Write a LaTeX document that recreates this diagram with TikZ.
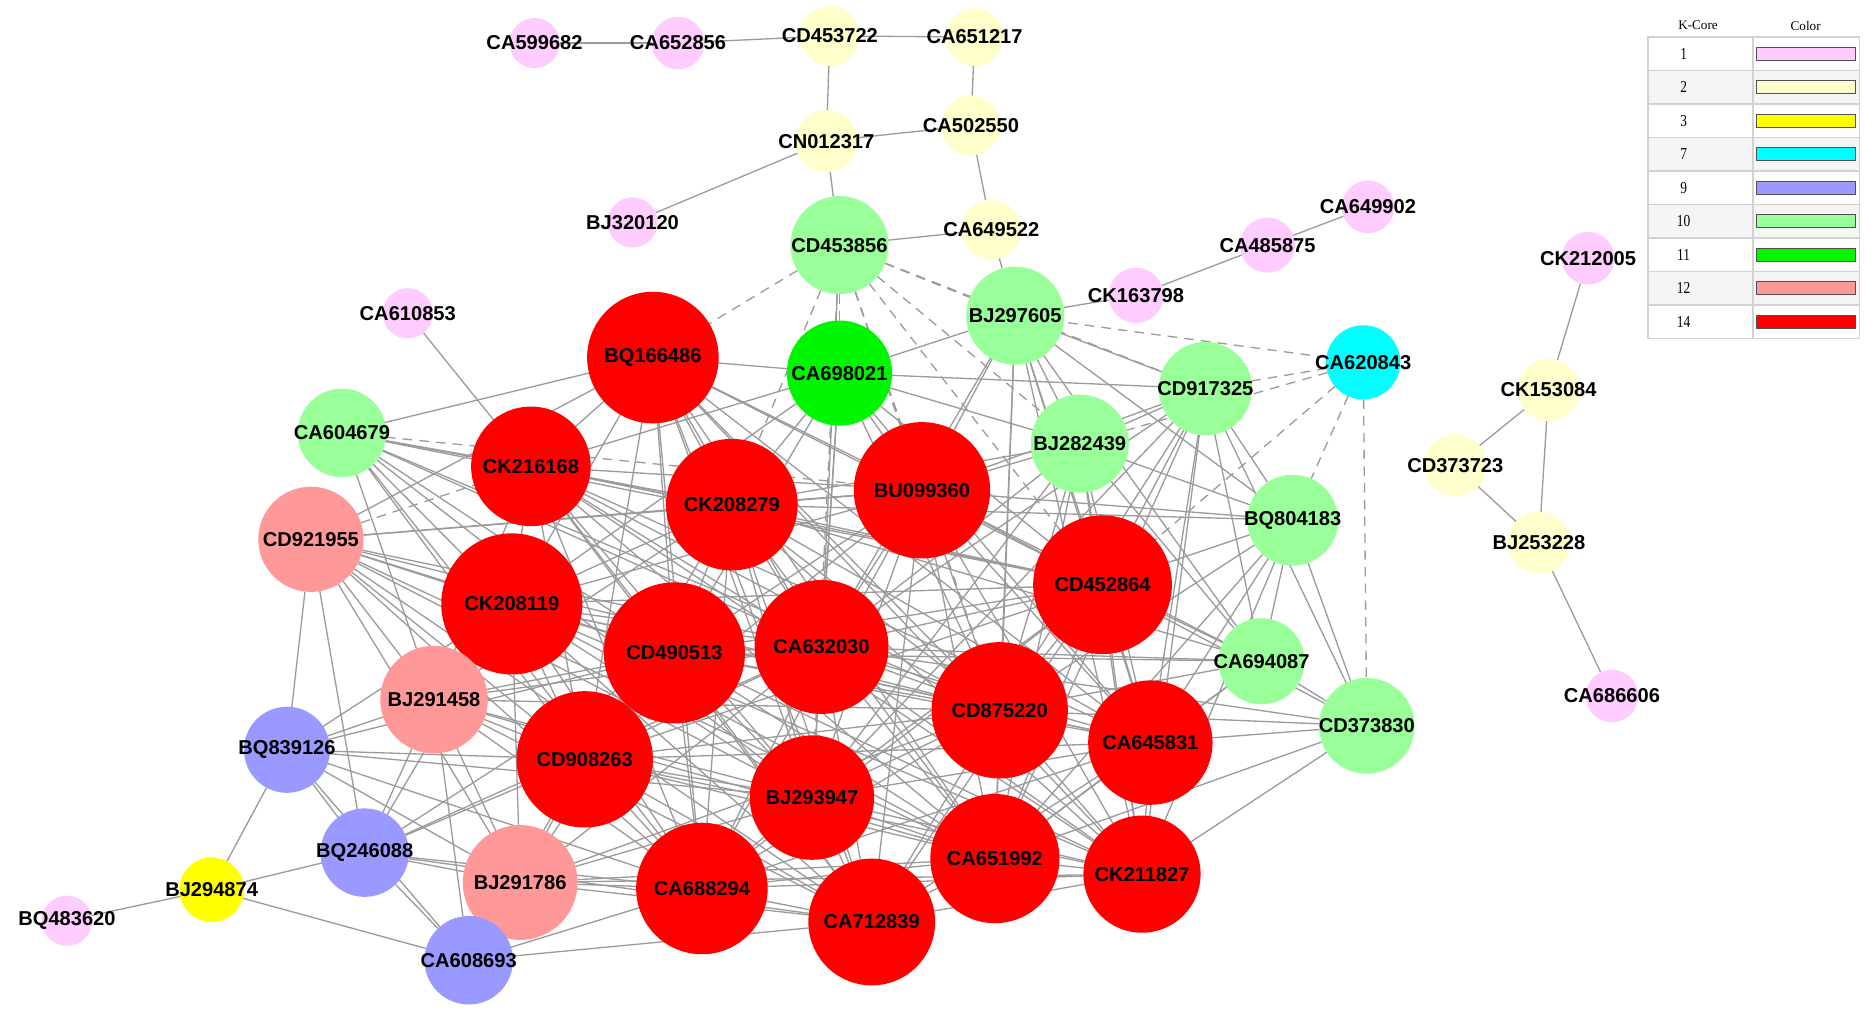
\documentclass[tikz,border=0pt]{standalone}
\usepackage{fontspec}
\setmainfont{Liberation Sans}
\newfontfamily\legfont{Liberation Serif}
\newfontfamily\legnfont[FakeStretch=0.8]{Liberation Serif}
\pgfdeclarelayer{edges}
\pgfsetlayers{edges,main}
\definecolor{k1}{RGB}{255,204,255}
\definecolor{k2}{RGB}{255,255,204}
\definecolor{k3}{RGB}{255,255,0}
\definecolor{k7}{RGB}{0,255,255}
\definecolor{k9}{RGB}{153,153,255}
\definecolor{k10}{RGB}{153,255,153}
\definecolor{k11}{RGB}{0,245,0}
\definecolor{k12}{RGB}{255,153,153}
\definecolor{k14}{RGB}{255,0,0}
\definecolor{edgec}{RGB}{155,155,155}
\definecolor{gridc}{RGB}{210,210,210}
\definecolor{barc}{RGB}{80,80,80}
\newcommand\gn[5]{\node[gnode={#1}{#2}, label={center:#3}] (#3) at (#4,#5) {};}
\begin{document}
\begin{tikzpicture}[x=0.5pt,y=-0.5pt,
  gnode/.style 2 args={circle, fill=#1, draw=none, minimum size=#2pt, inner sep=0pt, outer sep=0pt},
  every label/.style={font=\bfseries\fontsize{8.4}{10}\selectfont, inner sep=0pt, text=black},
  edge/.style={draw=edgec, line width=0.55pt},
  dedge/.style={draw=edgec, line width=0.55pt, dash pattern=on 4pt off 3pt},
  legnum/.style={font=\legnfont\fontsize{7}{8}\selectfont, inner sep=0pt},
  leghead/.style={font=\legfont\fontsize{5.5}{7}\selectfont, inner sep=0pt},
  legbar/.style={draw=barc, line width=0.5pt, minimum width=41.5pt, minimum height=5.5pt, inner sep=0pt}]
\useasboundingbox (0,0) rectangle (1568,858);
% ---- nodes ----
\gn{k1}{21}{CA599682}{447}{36}
\gn{k1}{22}{CA652856}{567}{36}
\gn{k2}{25}{CD453722}{694}{30}
\gn{k2}{24}{CA651217}{815}{31}
\gn{k2}{26}{CN012317}{691}{118}
\gn{k2}{25}{CA502550}{812}{105}
\gn{k1}{21}{BJ320120}{529}{186}
\gn{k2}{25}{CA649522}{829}{192}
\gn{k10}{41}{CD453856}{702}{205}
\gn{k1}{21}{CA610853}{341}{262}
\gn{k1}{23}{CK163798}{950}{247}
\gn{k1}{23}{CA485875}{1060}{205}
\gn{k1}{22}{CA649902}{1144}{173}
\gn{k10}{37}{CA604679}{286}{362}
\gn{k14}{55}{BQ166486}{546}{299}
\gn{k11}{44}{CA698021}{702}{312}
\gn{k10}{41}{BJ297605}{849}{264}
\gn{k7}{31}{CA620843}{1140}{303}
\gn{k10}{39}{CD917325}{1008}{325}
\gn{k10}{41}{BJ282439}{903}{371}
\gn{k14}{50}{CK216168}{444}{390}
\gn{k14}{55}{CK208279}{612}{422}
\gn{k14}{57}{BU099360}{771}{410}
\gn{k10}{38}{BQ804183}{1081}{435}
\gn{k12}{44}{CD921955}{260}{451}
\gn{k14}{58}{CD452864}{922}{489}
\gn{k14}{59}{CK208119}{428}{505}
\gn{k14}{59}{CD490513}{564}{546}
\gn{k14}{56}{CA632030}{687}{541}
\gn{k10}{36}{CA694087}{1055}{553}
\gn{k12}{45}{BJ291458}{363}{585}
\gn{k14}{57}{CD875220}{836}{594}
\gn{k10}{40}{CD373830}{1143}{607}
\gn{k14}{52}{CA645831}{962}{621}
\gn{k9}{36}{BQ839126}{240}{627}
\gn{k14}{57}{CD908263}{489}{635}
\gn{k14}{52}{BJ293947}{679}{667}
\gn{k9}{37}{BQ246088}{305}{713}
\gn{k14}{54}{CA651992}{832}{718}
\gn{k14}{49}{CK211827}{955}{731}
\gn{k12}{48}{BJ291786}{435}{738}
\gn{k14}{55}{CA688294}{587}{743}
\gn{k3}{27}{BJ294874}{177}{744}
\gn{k1}{21}{BQ483620}{56}{770}
\gn{k14}{53}{CA712839}{729}{771}
\gn{k9}{37}{CA608693}{392}{803}
\gn{k1}{22}{CK212005}{1328}{216}
\gn{k2}{26}{CK153084}{1295}{326}
\gn{k2}{26}{CD373723}{1217}{389}
\gn{k2}{26}{BJ253228}{1287}{454}
\gn{k1}{22}{CA686606}{1348}{582}
% ---- edges ----
\begin{pgfonlayer}{edges}
\fill[white] (0,0) rectangle (1568,858);
\def\redlist{BQ166486,CK216168,CK208279,BU099360,CD452864,CK208119,CD490513,CA632030,CD875220,CA645831,CD908263,BJ293947,CA688294,CA651992,CK211827,CA712839}
\foreach \a [count=\n] in \redlist {
  \foreach \b [count=\m] in \redlist {
    \ifnum\m>\n \draw[edge] (\a) -- (\b); \fi
  }
}
\foreach \a/\b in {
 CA610853/CK216168,
 CA604679/BQ166486, CA604679/CK216168, CA604679/CK208279, CA604679/CK208119, CA604679/CD490513, CA604679/CD908263, CA604679/BJ291458, CA604679/CA632030, CA604679/CD452864, CA604679/CA688294, CA604679/BJ293947, CA604679/CD875220,
 CD921955/BQ166486, CD921955/CK208279, CD921955/CK208119, CD921955/CD490513, CD921955/CA632030, CD921955/BU099360, CD921955/CD908263, CD921955/BJ291458, CD921955/BQ839126, CD921955/BQ246088, CD921955/BJ291786, CD921955/CA688294, CD921955/BJ293947, CD921955/CD875220, CD921955/CA712839, CD921955/CA651992,
 BJ291458/CK208119, BJ291458/CD490513, BJ291458/CD908263, BJ291458/CA632030, BJ291458/BJ293947, BJ291458/CA688294, BJ291458/BQ839126, BJ291458/BQ246088, BJ291458/BJ291786, BJ291458/CK208279, BJ291458/CD875220, BJ291458/CA651992, BJ291458/CK216168, BJ291458/CA712839, BJ291458/CA608693,
 BJ291786/CD908263, BJ291786/CA688294, BJ291786/CA712839, BJ291786/BJ293947, BJ291786/CD490513, BJ291786/CK208119, BJ291786/BQ246088, BJ291786/CA608693, BJ291786/CA651992, BJ291786/CK211827, BJ291786/CA632030, BJ291786/CD875220,
 BQ839126/CD908263, BQ839126/CK208119, BQ839126/CD490513, BQ839126/BQ246088, BQ839126/CA608693, BQ839126/BJ291786, BQ839126/CA688294, BQ839126/BJ294874, BQ839126/BJ293947,
 BQ246088/CD908263, BQ246088/CK208119, BQ246088/CD490513, BQ246088/CA688294, BQ246088/CA608693, BQ246088/CA712839, BQ246088/BJ294874, BQ246088/CA632030,
 CA608693/CA688294, CA608693/CA712839, CA608693/CD908263, CA608693/BJ294874,
 BJ294874/BQ483620,
 CA698021/BQ166486, CA698021/CK208279, CA698021/BU099360, CA698021/CK216168, CA698021/CD490513, CA698021/CA632030, CA698021/BJ297605, CA698021/CD917325, CA698021/BJ282439, CA698021/CD452864, CA698021/CK208119, CA698021/BJ293947, CA698021/CD875220, CA698021/CA645831,
 BJ297605/BJ282439, BJ297605/CD917325, BJ297605/BU099360, BJ297605/CD452864, BJ297605/CD875220, BJ297605/CA645831, BJ297605/BQ804183, BJ297605/CA632030, BJ297605/CK211827, BJ297605/CA694087, BJ297605/CA651992,
 CD917325/BJ282439, CD917325/BU099360, CD917325/CD452864, CD917325/CD875220, CD917325/CA645831, CD917325/CA632030, CD917325/BQ804183, CD917325/CA694087, CD917325/CD373830, CD917325/CK211827, CD917325/CA651992, CD917325/BJ293947,
 BJ282439/BU099360, BJ282439/CD452864, BJ282439/CK208279, BJ282439/CD875220, BJ282439/CA632030, BJ282439/BQ804183, BJ282439/CA645831, BJ282439/CA651992, BJ282439/BJ293947, BJ282439/CK211827, BJ282439/CA694087,
 BQ804183/BU099360, BQ804183/CD452864, BQ804183/CD875220, BQ804183/CA645831, BQ804183/CD373830, BQ804183/CK211827, BQ804183/CA694087, BQ804183/CA651992, BQ804183/CK208279,
 CA694087/CD452864, CA694087/CD875220, CA694087/CA632030, CA694087/CD490513, CA694087/CA645831, CA694087/CD373830, CA694087/BU099360, CA694087/CK208279, CA694087/CA651992,
 CD373830/CA645831, CD373830/CK211827, CD373830/CD875220, CD373830/CD452864, CD373830/CA651992, CD373830/CA632030,
 CD453856/CA632030,
 CA599682/CA652856, CA652856/CD453722, CD453722/CA651217, CD453722/CN012317, CA651217/CA502550, CN012317/CA502550, CN012317/BJ320120, CN012317/CD453856, CA502550/CA649522, CA649522/CD453856, CA649522/BJ297605, CK163798/BJ297605, CK163798/CA485875, CA485875/CA649902,
 CK212005/CK153084, CK153084/CD373723, CK153084/BJ253228, CD373723/BJ253228, BJ253228/CA686606}
 {\draw[edge] (\a) -- (\b);}
\foreach \a/\b in {
 CD453856/BQ166486, CD453856/CA698021, CD453856/CK208279, CD453856/BU099360, CD453856/BJ297605, CD453856/CD917325, CD453856/BJ282439, CD453856/CD452864, CD453856/CD875220, CD453856/BJ293947,
 CA620843/BJ297605, CA620843/CD917325, CA620843/BJ282439, CA620843/CD452864, CA620843/BQ804183, CA620843/CD373830,
 CD921955/CK216168, CA604679/BU099360}
 {\draw[dedge] (\a) -- (\b);}
\end{pgfonlayer}
% ---- legend ----
\foreach \i in {2,4,6,8} {\fill[black!4] (1378,{31+28*(\i-1)}) rectangle (1555,{31+28*\i});}
\draw[gridc, line width=0.6pt] (1378,31) rectangle (1555,283);
\draw[gridc, line width=0.6pt] (1466,31) -- (1466,283);
\foreach \i in {1,...,8} {\draw[gridc, line width=0.6pt] (1378,{31+28*\i}) -- (1555,{31+28*\i});}
\node[leghead] (hk) at (1420,21) {K-Core};
\node[leghead] (hc) at (1510,22) {Color};
\foreach \k [count=\i] in {1,2,3,7,9,10,11,12,14} {
  \node[legnum] (num\k) at (1408,{45+28*(\i-1)}) {\k};
  \node[legbar, fill=k\k] (bar\k) at (1510.5,{45+28*(\i-1)}) {};
}
\end{tikzpicture}
\end{document}
